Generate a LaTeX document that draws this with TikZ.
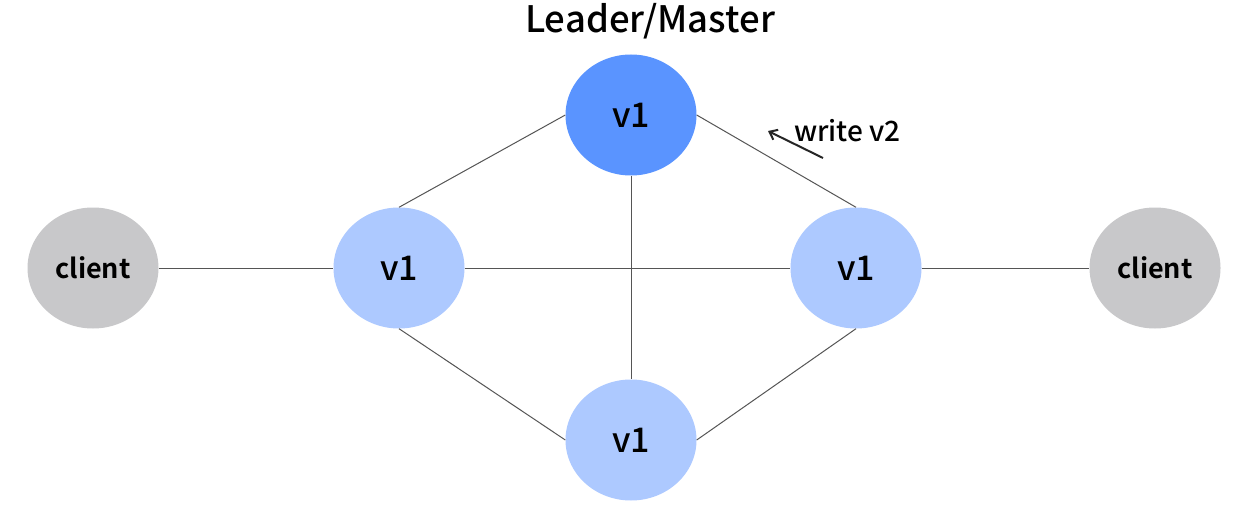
\documentclass[tikz,border=0pt]{standalone}
\usepackage{fontspec}
\setmainfont{Noto Sans CJK SC}[UprightFont={* Medium}, BoldFont={* Bold}]
\usetikzlibrary{shapes.geometric,arrows.meta}
\definecolor{leaderblue}{HTML}{5A94FF}
\definecolor{replicablue}{HTML}{ADC9FF}
\definecolor{clientgray}{HTML}{C8C8CA}
\definecolor{edgegray}{HTML}{555555}
\begin{document}
\begin{tikzpicture}[x=1pt,y=1pt,
  peer/.style={ellipse, minimum width=131pt, minimum height=121pt, inner sep=0pt,
               font=\fontsize{34}{38}\selectfont, text=black},
  leader/.style={peer, fill=leaderblue},
  replica/.style={peer, fill=replicablue},
  clientnode/.style={peer, fill=clientgray, font=\fontsize{27}{30}\selectfont\bfseries},
  link/.style={draw=edgegray, line width=1pt}]
  \useasboundingbox (0,0) rectangle (1241,-505);
  \fill[white] (0,0) rectangle (1241,-505);

  % nodes
  \node[leader]  (top)    at (631,-115) {v1};
  \node[replica] (left)   at (399,-268) {v1};
  \node[replica] (right)  at (856,-268) {v1};
  \node[replica] (bottom) at (631,-440) {v1};
  \node[clientnode] (cl) at (93,-268)  {client};
  \node[clientnode] (cr) at (1155,-268) {client};

  % title
  \node[anchor=base, font=\fontsize{36.5}{40}\selectfont, inner sep=0pt] (title) at (650,-33) {Leader/Master};

  % connections
  \draw[link] (left.north) -- (top.west);
  \draw[link] (top.east) -- (right.north);
  \draw[link] (top.south) -- (bottom.north);
  \draw[link] (left.east) -- (right.west);
  \draw[link] (left.south) -- (bottom.west);
  \draw[link] (right.south) -- (bottom.east);
  \draw[link] (cl.east) -- (left.west);
  \draw[link] (right.east) -- (cr.west);

  % write annotation
  \coordinate (wtail) at (823,-158);
  \coordinate (whead) at (768,-131);
  \draw[line width=2pt, draw=black!85, -{Straight Barb[length=7pt,width=11pt]}] (wtail) -- (whead);
  \node[anchor=base west, inner sep=0pt, font=\fontsize{28}{30}\selectfont] (wlabel) at (794,-142) {write v2};
\end{tikzpicture}
\end{document}
